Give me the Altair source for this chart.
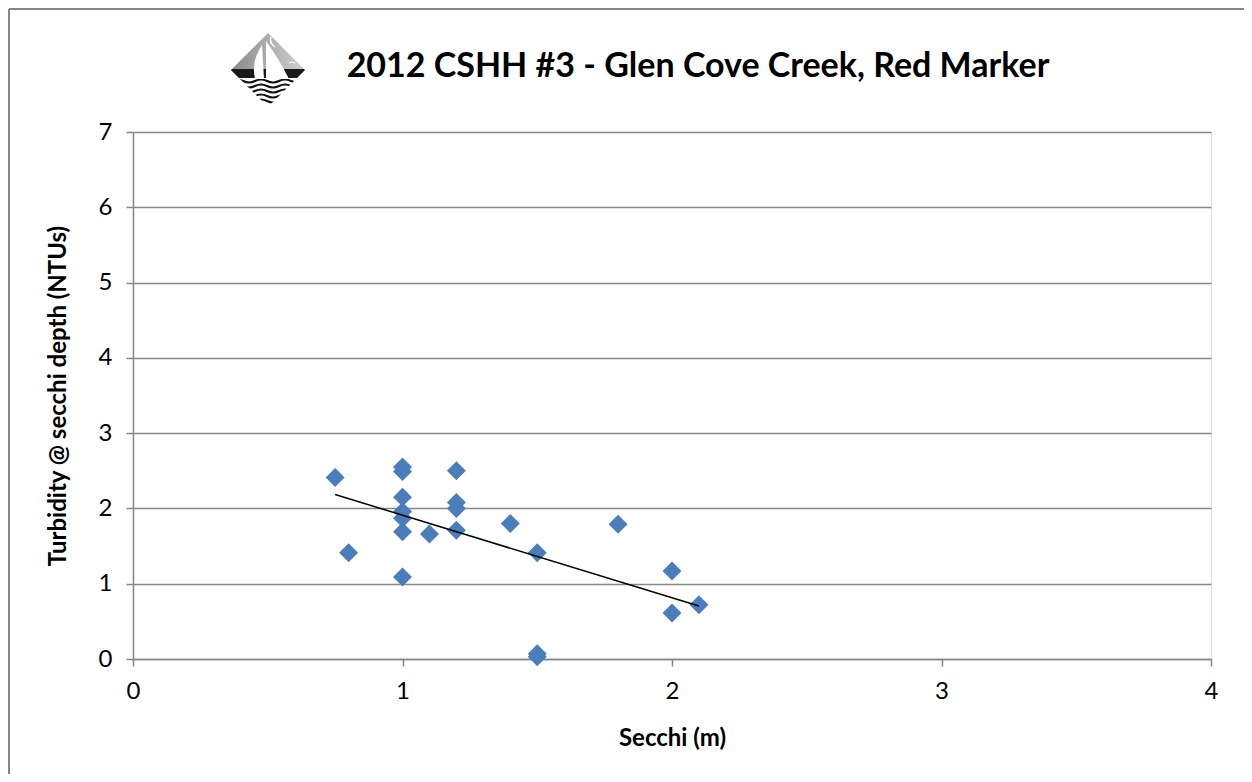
import altair as alt
import pandas as pd
import urllib.parse

# ---- data ----
secchi = [0.75, 0.8, 1.0, 1.0, 1.0, 1.0, 1.0, 1.0, 1.0, 1.1, 1.2, 1.2, 1.2, 1.2,
          1.4, 1.5, 1.5, 1.5, 1.8, 2.0, 2.0, 2.1]
turbidity = [2.41, 1.41, 2.55, 2.49, 2.15, 1.96, 1.87, 1.69, 1.09, 1.66, 2.50, 2.08,
             2.00, 1.71, 1.80, 1.41, 0.07, 0.03, 1.79, 1.17, 0.61, 0.72]
x_ticks = [0, 1, 2, 3, 4]
y_ticks = [0, 1, 2, 3, 4, 5, 6, 7]
title_text = "2012 CSHH #3 - Glen Cove Creek, Red Marker"

df = pd.DataFrame({"Secchi": secchi, "Turbidity": turbidity})
one = pd.DataFrame({"k": [0]})

W, H = 1078, 527
PADL, PADT, PADR, PADB = 125, 124, 33, 115

FONT = "Lato"
GREY = "#868686"
BLUE = "#4A7EBB"

xs = alt.Scale(domain=[0, 4], nice=False, zero=False)
ys = alt.Scale(domain=[0, 7], nice=False, zero=False)

base = alt.Chart(df)

points = base.mark_point(shape="diamond", filled=True, size=360, color=BLUE, opacity=1).encode(
    x=alt.X("Secchi:Q", scale=xs,
            axis=alt.Axis(values=x_ticks, grid=False, title="Secchi (m)",
                          titleFontSize=24, titleFontWeight="bold", titleFont=FONT,
                          titleColor="black", titlePadding=23,
                          labelFont=FONT, labelFontSize=24, labelColor="black",
                          labelPadding=13, labelFlush=False,
                          tickSize=7, tickColor=GREY, tickWidth=1.5,
                          domainColor=GREY, domainWidth=1.5, format="d")),
    y=alt.Y("Turbidity:Q", scale=ys,
            axis=alt.Axis(values=y_ticks, grid=True, gridColor=GREY, gridWidth=1.5,
                          title="Turbidity @ secchi depth (NTUs)",
                          titleFontSize=24, titleFontWeight="bold", titleFont=FONT,
                          titleColor="black", titlePadding=28,
                          labelFont=FONT, labelFontSize=24, labelColor="black",
                          labelPadding=14, labelFlush=False,
                          tickSize=7, tickColor=GREY, tickWidth=1.5,
                          domainColor=GREY, domainWidth=1.5, format="d")),
)

trend = base.transform_regression("Secchi", "Turbidity").mark_line(
    color="black", strokeWidth=1.5).encode(
    x=alt.X("Secchi:Q", scale=xs),
    y=alt.Y("Turbidity:Q", scale=ys),
)

title = alt.Chart(one).mark_text(
    text=title_text, font=FONT, fontSize=34, fontWeight="bold", color="black",
    align="center", baseline="alphabetic").encode(
    x=alt.value(565), y=alt.value(-55))

logo_svg = (
    "<svg xmlns='http://www.w3.org/2000/svg' width='74' height='74' viewBox='0 0 74 74'>"
    "<defs><clipPath id='c'><polygon points='37,0 74,37 37,74 0,37'/></clipPath>"
    "<linearGradient id='g' x1='0' y1='0' x2='1' y2='0'>"
    "<stop offset='0' stop-color='#8a8a8a'/><stop offset='1' stop-color='#d0d0d0'/></linearGradient></defs>"
    "<g clip-path='url(#c)'>"
    "<rect width='74' height='44' fill='url(#g)'/>"
    "<rect y='36' width='74' height='9' fill='#1a1a1a'/>"
    "<rect y='45' width='74' height='29' fill='#ffffff'/>"
    "<path d='M0,48 q6,-3 12,0 t12,0 t12,0 t12,0 t12,0 t12,0 t12,0' stroke='#111' stroke-width='2.2' fill='none'/>"
    "<path d='M0,53 q6,-3 12,0 t12,0 t12,0 t12,0 t12,0 t12,0 t12,0' stroke='#111' stroke-width='2.2' fill='none'/>"
    "<path d='M0,58 q6,-3 12,0 t12,0 t12,0 t12,0 t12,0 t12,0 t12,0' stroke='#111' stroke-width='2.2' fill='none'/>"
    "<path d='M0,63 q6,-3 12,0 t12,0 t12,0 t12,0 t12,0 t12,0 t12,0' stroke='#111' stroke-width='2.2' fill='none'/>"
    "<path d='M0,68 q6,-3 12,0 t12,0 t12,0 t12,0 t12,0 t12,0 t12,0' stroke='#111' stroke-width='2.2' fill='none'/>"
    "<path d='M31,12 Q20,28 24,46 L33,46 Z' fill='#ffffff'/>"
    "<path d='M35,8 L35,46 L58,46 Q48,26 35,8 Z' fill='#ffffff'/>"
    "<path d='M44,14 q-6,-4 -4,-10' stroke='#ffffff' stroke-width='1.5' fill='none'/>"
    "<path d='M58,30 l3,-1 l3,1' stroke='#ffffff' stroke-width='1' fill='none'/>"
    "</g></svg>"
)
logo_uri = "data:image/svg+xml;charset=utf-8," + urllib.parse.quote(logo_svg)

logo = alt.Chart(one).mark_image(width=74, height=74).encode(
    x=alt.value(135), y=alt.value(-62), url=alt.value(logo_uri))

# outer chart frame: only its top and left edges fall inside the page
frame_top = alt.Chart(one).mark_rule(stroke=GREY, strokeWidth=2).encode(
    x=alt.value(-PADL + 1), x2=alt.value(W + PADR), y=alt.value(-PADT + 1))
frame_left = alt.Chart(one).mark_rule(stroke=GREY, strokeWidth=2).encode(
    x=alt.value(-PADL + 1), y=alt.value(-PADT + 1), y2=alt.value(H + PADB))

chart = alt.layer(frame_top, frame_left, points, trend, title, logo).properties(
    width=W, height=H,
    padding={"left": PADL, "top": PADT, "right": PADR, "bottom": PADB},
    autosize=alt.AutoSizeParams(type="none"),
).configure_view(stroke=None).configure(background="white")

chart.save("out.html", embed_options={"renderer": "svg", "actions": False})
